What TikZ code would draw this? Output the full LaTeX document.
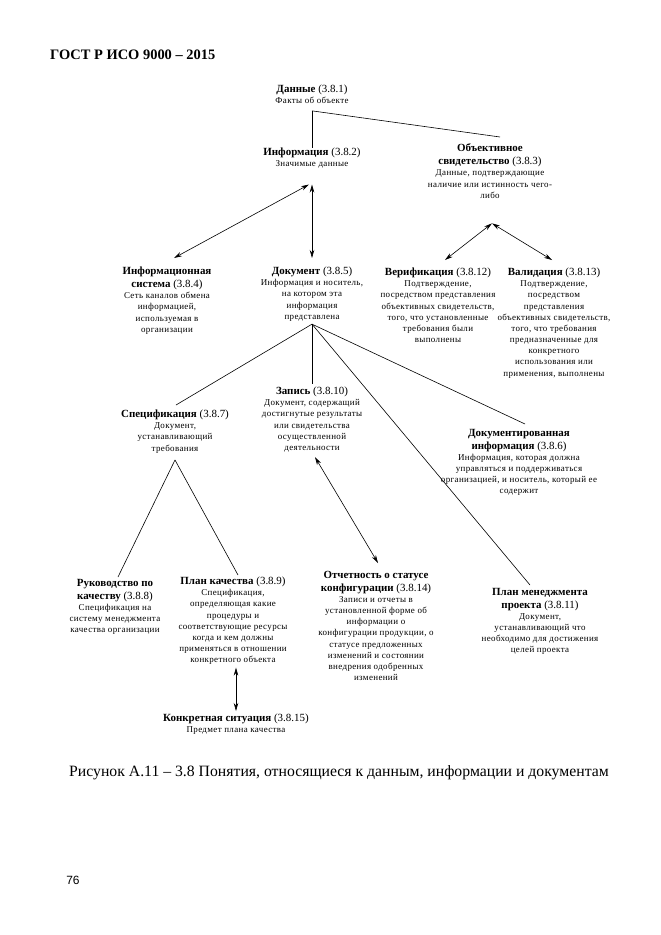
\documentclass[tikz,border=0pt]{standalone}
\usepackage{fontspec}
\setmainfont{Liberation Serif}
\newfontfamily\pgnumfont{Liberation Sans}
\newfontfamily\descfont{Liberation Serif}[LetterSpace=4]
\usetikzlibrary{arrows.meta,calc}
\newcommand\cttl[1]{{\rmfamily\fontsize{11}{13}\selectfont #1}}
\tikzset{
  concept/.style={anchor=north, inner sep=0pt, outer sep=0pt, align=center,
                  font=\descfont\fontsize{9}{11.2}\selectfont},
  link/.style={line width=0.6bp, black},
  biarrow/.style={link, {Stealth[length=8bp,width=4.5bp]}-{Stealth[length=8bp,width=4.5bp]}},
}
\begin{document}
\begin{tikzpicture}[x=1bp,y=-1bp]
\useasboundingbox[fill=white] (0,0) rectangle (661,935);

\node[anchor=west, inner sep=0pt, font=\fontsize{14.5}{16}\selectfont\bfseries] (hdr) at (50,55) {ГОСТ Р ИСО 9000 – 2015};

\node[concept] (data) at (312,85) {\cttl{\textbf{Данные} (3.8.1)}\\ Факты об объекте};
\node[concept] (info) at (312,148) {\cttl{\textbf{Информация} (3.8.2)}\\ Значимые данные};
\node[concept] (obj) at (490,144) {\cttl{\textbf{Объективное}}\\[1.8pt] \cttl{\textbf{свидетельство} (3.8.3)}\\ Данные, подтверждающие\\ наличие или истинность чего-\\ либо};
\node[concept] (isys) at (167,267) {\cttl{\textbf{Информационная}}\\[1.8pt] \cttl{\textbf{система} (3.8.4)}\\ Сеть каналов обмена\\ информацией,\\ используемая в\\ организации};
\node[concept] (doc) at (312,267) {\cttl{\textbf{Документ} (3.8.5)}\\ Информация и носитель,\\ на котором эта\\ информация\\ представлена};
\node[concept] (verif) at (438,268) {\cttl{\textbf{Верификация} (3.8.12)}\\ Подтверждение,\\ посредством представления\\ объективных свидетельств,\\ того, что установленные\\ требования были\\ выполнены};
\node[concept] (valid) at (554,268) {\cttl{\textbf{Валидация} (3.8.13)}\\ Подтверждение,\\ посредством\\ представления\\ объективных свидетельств,\\ того, что требования\\ предназначенные для\\ конкретного\\ использования или\\ применения, выполнены};
\node[concept] (rec) at (312,387) {\cttl{\textbf{Запись} (3.8.10)}\\ Документ, содержащий\\ достигнутые результаты\\ или свидетельства\\ осуществленной\\ деятельности};
\node[concept] (spec) at (175,410) {\cttl{\textbf{Спецификация} (3.8.7)}\\ Документ,\\ устанавливающий\\ требования};
\node[concept] (docinfo) at (519,429) {\cttl{\textbf{Документированная}}\\[1.8pt] \cttl{\textbf{информация} (3.8.6)}\\ Информация, которая должна\\ управляться и поддерживаться\\ организацией, и носитель, который ее\\ содержит};
\node[concept] (qman) at (115,579) {\cttl{\textbf{Руководство по}}\\[1.8pt] \cttl{\textbf{качеству} (3.8.8)}\\ Спецификация на\\ систему менеджмента\\ качества организации};
\node[concept] (qplan) at (233,577) {\cttl{\textbf{План качества} (3.8.9)}\\ Спецификация,\\ определяющая какие\\ процедуры и\\ соответствующие ресурсы\\ когда и кем должны\\ применяться в отношении\\ конкретного объекта};
\node[concept] (cfg) at (376,571) {\cttl{\textbf{Отчетность о статусе}}\\[1.8pt] \cttl{\textbf{конфигурации} (3.8.14)}\\ Записи и отчеты в\\ установленной форме об\\ информации о\\ конфигурации продукции, о\\ статусе предложенных\\ изменений и состоянии\\ внедрения одобренных\\ изменений};
\node[concept] (pm) at (540,588) {\cttl{\textbf{План менеджмента}}\\[1.8pt] \cttl{\textbf{проекта} (3.8.11)}\\ Документ,\\ устанавливающий что\\ необходимо для достижения\\ целей проекта};
\node[concept] (sit) at (236,714) {\cttl{\textbf{Конкретная ситуация} (3.8.15)}\\ Предмет плана качества};

\node[inner sep=0pt, font=\fontsize{15.8}{17}\selectfont] (cap) at (339,773) {Рисунок А.11 – 3.8 Понятия, относящиеся к данным, информации и документам};
\node[inner sep=0pt, font=\pgnumfont\fontsize{12}{14}\selectfont] (pg) at (73,880) {76};

% connectors
\draw[link] ($(data.south)+(0,7)$) -- (info.north);
\draw[link] ($(data.south)+(0,7)$) -- ($(obj.north)+(10,-7)$);
\draw[biarrow] ($(info.south)+(-3,16)$) -- ($(isys.north)+(7,-9)$);
\draw[biarrow] ($(info.south)+(0,16)$) -- ($(doc.north)+(0,-9)$);
\draw[biarrow] ($(obj.south)+(2,25)$) -- ($(verif.north)+(7,-8)$);
\draw[biarrow] ($(obj.south)+(2,25)$) -- ($(valid.north)+(-2,-8)$);
\draw[link] ($(doc.south)+(0,3)$) -- ($(spec.north)+(1,-5)$);
\draw[link] ($(doc.south)+(0,3)$) -- ($(rec.north)+(0,-3)$);
\draw[link] ($(doc.south)+(0,3)$) -- ($(docinfo.north)+(6,-5)$);
\draw[link] ($(doc.south)+(0,3)$) -- ($(pm.north)+(-10,-3)$);
\draw[link] ($(spec.south)+(0,7)$) -- ($(qman.north)+(3,-2)$);
\draw[link] ($(spec.south)+(0,7)$) -- ($(qplan.north)+(5,-2)$);
\draw[biarrow] ($(rec.south)+(3,5)$) -- ($(cfg.north)+(2,-8)$);
\draw[biarrow] ($(qplan.south)+(3,3)$) -- ($(sit.north)+(0,-3)$);
\end{tikzpicture}
\end{document}
